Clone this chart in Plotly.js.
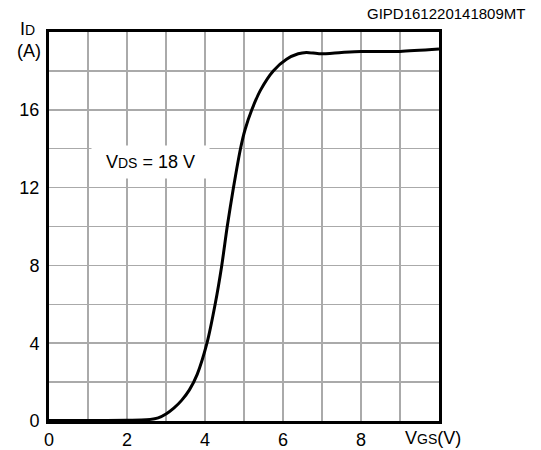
<!DOCTYPE html>
<html>
<head>
<meta charset="utf-8">
<script src="https://cdn.plot.ly/plotly-3.0.1.min.js"></script>
<style>html,body{margin:0;padding:0;background:#fff;}</style>
</head>
<body>
<div id="chart" style="width:541px;height:450px;"></div>
<script>
// Transfer characteristic: VGS (V) vs ID (A), VDS = 18 V
const vgs = [0, 1, 2, 2.5, 2.8, 3.0, 3.2, 3.4, 3.6, 3.8, 4.05, 4.26, 4.43, 4.57, 4.73, 4.91, 5.03, 5.2, 5.42, 5.75, 6.09, 6.39, 6.6, 6.95, 7.5, 8.0, 9.0, 10];
const id  = [0.02, 0.02, 0.04, 0.06, 0.16, 0.36, 0.66, 1.06, 1.6, 2.4, 4.0, 6.0, 8.0, 10.0, 12.0, 14.0, 15.0, 16.0, 17.0, 18.0, 18.6, 18.88, 18.95, 18.88, 18.95, 19.0, 19.0, 19.12];

const xTickVals = [0, 1, 2, 3, 4, 5, 6, 7, 8, 9, 10];
const xTickText = ["0", "", "2", "", "4", "", "6", "", "8", "", ""];
const yTickVals = [0, 2, 4, 6, 8, 10, 12, 14, 16, 18, 20];
const yTickText = ["0", "", "4", "", "8", "", "12", "", "16", "", ""];

const FONT = "Liberation Sans, Arial, sans-serif";

const trace = {
  x: vgs, y: id, type: "scatter", mode: "lines",
  line: {color: "#000", width: 3, shape: "spline", smoothing: 0.7},
  hoverinfo: "skip"
};

const layout = {
  width: 541, height: 450,
  margin: {l: 49, r: 102, t: 32, b: 29, pad: 0},
  paper_bgcolor: "#fff", plot_bgcolor: "#fff",
  font: {family: FONT, size: 18, color: "#000"},
  showlegend: false,
  xaxis: {
    range: [0, 10], tickmode: "array", tickvals: xTickVals, ticktext: xTickText,
    showgrid: true, gridcolor: "#aaaaaa", gridwidth: 1.5,
    showline: true, linecolor: "#000", linewidth: 3, mirror: true,
    zeroline: false, ticks: "", ticklen: 0,
    tickfont: {family: FONT, size: 18, color: "#000"}
  },
  yaxis: {
    range: [0, 20], tickmode: "array", tickvals: yTickVals, ticktext: yTickText,
    showgrid: true, gridcolor: "#aaaaaa", gridwidth: 1.5,
    showline: true, linecolor: "#000", linewidth: 3, mirror: true,
    zeroline: false, ticks: "", ticklen: 0, ticklabelstandoff: 3,
    tickfont: {family: FONT, size: 18, color: "#000"}
  },
  annotations: [
    {
      x: 2.6, y: 13.3, xref: "x", yref: "y",
      text: 'V<span style="font-size:14px">DS</span> = 18 V',
      showarrow: false, bgcolor: "#fff", width: 109, height: 24, borderpad: 4,
      font: {family: FONT, size: 18, color: "#000"}
    },
    {
      x: 433, y: 438, text: 'V<span style="font-size:14px">GS</span>(V)',
      showarrow: false, font: {family: FONT, size: 18, color: "#000"}
    },
    {
      x: 27, y: 29, text: 'I<span style="font-size:14px">D</span>',
      showarrow: false, font: {family: FONT, size: 18, color: "#000"}
    },
    {
      x: 29, y: 51, text: '(A)',
      showarrow: false, font: {family: FONT, size: 18, color: "#000"}
    },
    {
      x: 446, y: 14, text: 'GIPD161220141809MT',
      showarrow: false, font: {family: FONT, size: 15, color: "#000"}
    }
  ]
};

// convert pixel-positioned annotations (indices 1..4) to paper coordinates
const plotW = 541 - layout.margin.l - layout.margin.r;
const plotH = 450 - layout.margin.t - layout.margin.b;
for (let i = 1; i < layout.annotations.length; i++) {
  const a = layout.annotations[i];
  a.xref = "paper"; a.yref = "paper";
  a.xanchor = "center"; a.yanchor = "middle";
  a.x = (a.x - layout.margin.l) / plotW;
  a.y = 1 - (a.y - layout.margin.t) / plotH;
}

Plotly.newPlot("chart", [trace], layout, {staticPlot: true, displayModeBar: false});
</script>
</body>
</html>
